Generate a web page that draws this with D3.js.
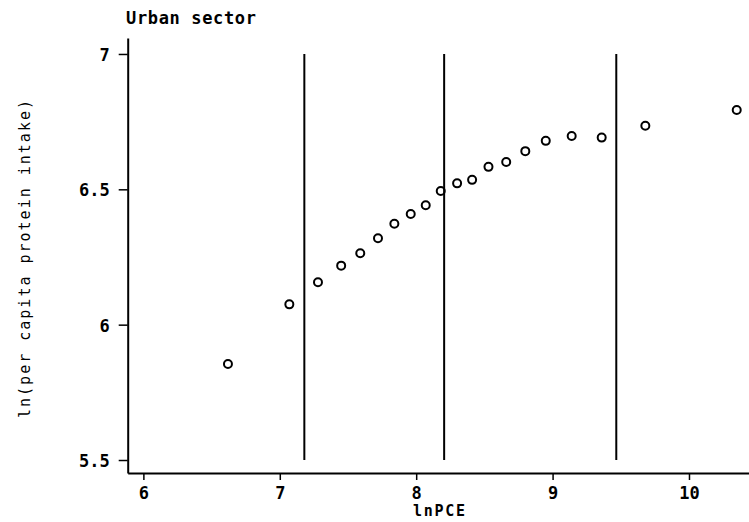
<!DOCTYPE html>
<html>
<head>
<meta charset="utf-8">
<script src="https://cdn.jsdelivr.net/npm/d3@7"></script>
<style>
  body { margin: 0; background: #fff; }
  svg { display: block; }
  text { font-family: "DejaVu Sans Mono", monospace; fill: #000; }
</style>
</head>
<body>
<script>
// lnPCE vs ln(per capita protein intake), urban sector
var lnPCE   = [6.62, 7.07, 7.28, 7.45, 7.59, 7.72, 7.84, 7.96, 8.07, 8.18,
               8.30, 8.41, 8.53, 8.66, 8.80, 8.95, 9.14, 9.36, 9.68, 10.35];
var protein = [5.855, 6.075, 6.157, 6.218, 6.264, 6.319, 6.373, 6.409, 6.441, 6.494,
               6.522, 6.535, 6.583, 6.601, 6.641, 6.679, 6.697, 6.691, 6.735, 6.793];
var cutoffs = [7.18, 8.205, 9.467];   // vertical reference lines
var xTicks = [6, 7, 8, 9, 10];
var yTicks = [5.5, 6, 6.5, 7];

var W = 749, H = 522;
var svg = d3.select('body').append('svg')
    .attr('width', W)
    .attr('height', H)

var x = d3.scaleLinear().domain([5.885, 10.44]).range([127.7, 749])
var y = d3.scaleLinear().domain([5.452, 7.059]).range([473, 38])

// x axis
var xAxis = d3.axisBottom(x).tickValues(xTicks).tickSize(7).tickSizeOuter(0)
    .tickFormat(function (d) { return String(d) })
var gx = svg.append('g')
    .attr('transform', 'translate(0,473)')
    .call(xAxis)
gx.select('.domain').attr('stroke', '#000').attr('stroke-width', 2)
gx.selectAll('.tick line').attr('stroke', '#000').attr('stroke-width', 1.5)
gx.selectAll('.tick text')
    .attr('y', 13)
    .attr('dy', '0.75em')
    .style('font-size', '17px')
    .style('font-weight', 'bold')
    .style('font-family', '"DejaVu Sans Mono", monospace')

// y axis
var yAxis = d3.axisLeft(y).tickValues(yTicks).tickSize(9).tickSizeOuter(0)
    .tickFormat(function (d) { return String(d) })
var gy = svg.append('g')
    .attr('transform', 'translate(127.7,0)')
    .call(yAxis)
gy.select('.domain').attr('stroke', '#000').attr('stroke-width', 2)
gy.selectAll('.tick line').attr('stroke', '#000').attr('stroke-width', 1.5)
gy.selectAll('.tick text')
    .attr('x', -18)
    .attr('dy', '0.38em')
    .style('font-size', '17px')
    .style('font-weight', 'bold')
    .style('font-family', '"DejaVu Sans Mono", monospace')

// vertical cutoff lines
svg.selectAll('line.cut')
    .data(cutoffs)
    .enter()
  .append('line')
    .attr('class', 'cut')
    .attr('x1', function (d) { return x(d) })
    .attr('x2', function (d) { return x(d) })
    .attr('y1', y(7))
    .attr('y2', y(5.5))
    .attr('stroke', '#000')
    .attr('stroke-width', 2)

// points
var pts = lnPCE.map(function (d, i) { return {x: d, y: protein[i]} })
svg.selectAll('circle')
    .data(pts)
    .enter()
  .append('circle')
    .attr('cx', function (d) { return x(d.x) })
    .attr('cy', function (d) { return y(d.y) })
    .attr('r', 4)
    .attr('fill', 'none')
    .attr('stroke', '#000')
    .attr('stroke-width', 2)

// titles
svg.append('text')
    .attr('x', 126)
    .attr('y', 24)
    .attr('textLength', 130)
    .style('font-size', '17px')
    .style('font-weight', 'bold')
    .text('Urban sector')

svg.append('text')
    .attr('x', 439)
    .attr('y', 516)
    .attr('text-anchor', 'middle')
    .attr('textLength', 52)
    .style('font-size', '15px')
    .style('font-weight', 'bold')
    .text('lnPCE')

svg.append('text')
    .attr('transform', 'translate(30,259) rotate(-90)')
    .attr('text-anchor', 'middle')
    .attr('textLength', 318)
    .style('font-size', '15px')
    .text('ln(per capita protein intake)')
</script>
</body>
</html>
